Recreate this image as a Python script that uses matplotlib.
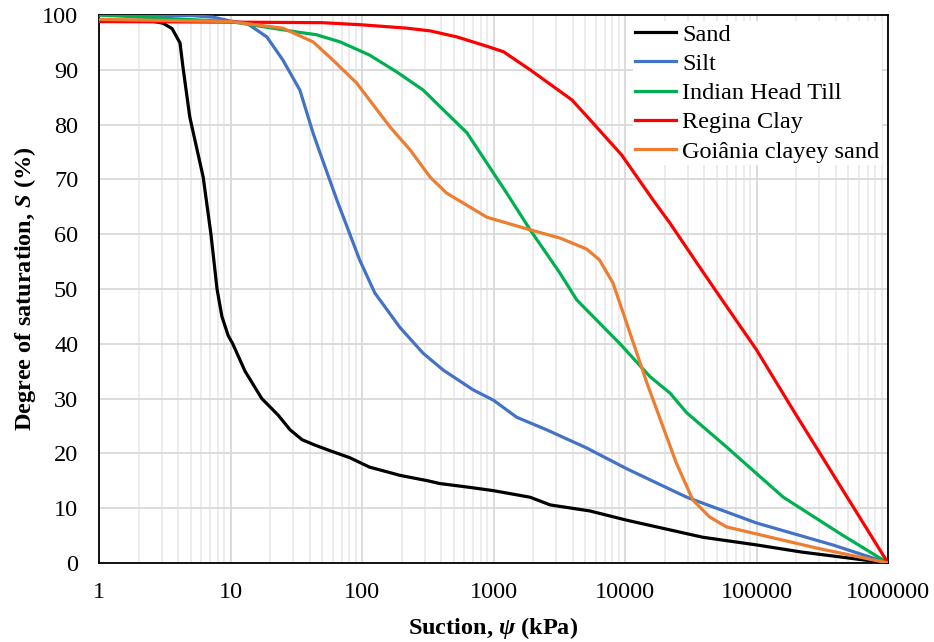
import numpy as np
import matplotlib
matplotlib.use("Agg")
import matplotlib.pyplot as plt
from matplotlib.ticker import FixedLocator, LogLocator, NullFormatter

plt.rcParams['font.family'] = ['Liberation Serif', 'DejaVu Serif']
plt.rcParams['mathtext.fontset'] = 'custom'
plt.rcParams['mathtext.rm'] = 'Liberation Serif:bold'
plt.rcParams['mathtext.it'] = 'Liberation Serif:bold:italic'
plt.rcParams['mathtext.bf'] = 'Liberation Serif:bold'

# suction (kPa) / degree of saturation (%)
sand_x = [1, 2.4, 3.07, 3.6, 4.13, 4.35, 4.9, 6.2, 7.1, 7.9, 8.6, 9.6, 10.4, 12.9, 17.3, 23,
          28.4, 35, 44, 57, 81, 114, 194, 317, 390, 660, 1000, 1900, 2700, 5400, 10350,
          39000, 1e5, 2.2e5, 1e6]
sand_y = [99, 99, 98.5, 97.5, 94.9, 90.5, 81.4, 70.4, 60, 50, 45, 41.5, 40, 35, 30, 27,
          24.3, 22.5, 21.5, 20.5, 19.2, 17.5, 16, 15, 14.5, 13.8, 13.2, 12, 10.6, 9.5, 7.8,
          4.7, 3.3, 2.0, 0]

silt_x = [1, 5, 7.4, 10, 13.3, 18.9, 25, 33.7, 42.4, 48, 64.5, 96, 125, 194, 291, 415, 700,
          1000, 1500, 2540, 5100, 10300, 29500, 1e5, 3.8e5, 1e6]
silt_y = [100, 99.9, 99.6, 98.9, 98.5, 96, 91.8, 86.3, 78.5, 74.8, 66.2, 55.3, 49.3, 43,
          38.3, 35.2, 31.6, 29.7, 26.6, 24.3, 21, 17.2, 12, 7.3, 3.3, 0]

till_x = [1, 10, 32, 45, 68, 114, 184, 292, 415, 628, 830, 1260, 1900, 3200, 4300, 9160,
          15500, 22000, 29500, 59000, 1.07e5, 1.6e5, 4.5e5, 1e6]
till_y = [100, 98.8, 96.9, 96.4, 95.1, 92.7, 89.6, 86.3, 82.7, 78.5, 74.1, 67.5, 60.8, 52.9,
          48, 40, 34, 31, 27.4, 21.2, 15.7, 12, 5.1, 0]

clay_x = [1, 10, 50, 101, 219, 330, 527, 890, 1190, 1900, 3950, 5700, 9400, 16400, 22000,
          35300, 53000, 1e5, 1.9e5, 1e6]
clay_y = [98.8, 98.7, 98.6, 98.2, 97.6, 97.1, 96, 94.3, 93.3, 90, 84.5, 80.3, 74.5, 66.2,
          62, 54.7, 48.5, 38.9, 27.9, 0]

goiania_x = [1, 10, 25, 42.4, 57, 91, 114, 163, 232, 330, 440, 890, 1900, 3200, 5100, 6400,
             8100, 10900, 14700, 18300, 24600, 32800, 44000, 59000, 92000, 2.9e5, 1e6]
goiania_y = [99.2, 98.8, 97.6, 95.1, 92.3, 87.6, 84.5, 79.6, 75.4, 70.4, 67.5, 63.1, 60.8,
             59.3, 57.3, 55.3, 51.1, 42, 32.8, 26.6, 18.2, 11.5, 8.4, 6.6, 5.5, 2.7, 0]

labels = ['Sand', 'Silt', 'Indian Head Till', 'Regina Clay', 'Goiânia clayey sand']
colors = ['#000000', '#4472C4', '#00B050', '#FF0000', '#ED7D31']
x_ticks = [1, 10, 100, 1000, 10000, 100000, 1000000]
y_ticks = list(range(0, 101, 10))

FS = 17.5

fig = plt.figure(figsize=(9.34, 6.42), dpi=100)
ax = fig.add_axes([99 / 934, 79 / 642, 789 / 934, 548 / 642])

series = [(sand_x, sand_y), (silt_x, silt_y), (till_x, till_y),
          (clay_x, clay_y), (goiania_x, goiania_y)]
for (xs, ys), lab, c in zip(series, labels, colors):
    ax.plot(xs, ys, color=c, lw=2.3, label=lab, solid_joinstyle='round', zorder=3)

ax.set_xscale('log')
ax.set_xlim(1, 1e6)
ax.set_ylim(0, 100)
ax.xaxis.set_major_locator(FixedLocator(x_ticks))
ax.set_xticklabels([str(t) for t in x_ticks])
ax.xaxis.set_minor_locator(LogLocator(base=10, subs=np.arange(2, 10)))
ax.xaxis.set_minor_formatter(NullFormatter())
ax.set_yticks(y_ticks)

ax.grid(True, which='major', color='#d9d9d9', lw=1.3, zorder=0)
ax.grid(True, which='minor', axis='x', color='#ebebeb', lw=1.3, zorder=0)
ax.set_axisbelow(True)

ax.tick_params(which='both', length=0, labelsize=FS)
ax.tick_params(axis='x', pad=14)
ax.tick_params(axis='y', pad=15)
for s in ax.spines.values():
    s.set_color('black')
    s.set_linewidth(1.3)

ax.set_xlabel(r'Suction, $\psi$ (kPa)', fontsize=FS, fontweight='bold', labelpad=8)
ax.set_ylabel(r'Degree of saturation, $S$ (%)', fontsize=FS, fontweight='bold', labelpad=3)

leg = ax.legend(loc='upper right', fontsize=FS, frameon=True, fancybox=False,
                borderaxespad=0.25, handlelength=1.7, handletextpad=0.25,
                labelspacing=0.3, borderpad=0.1)
leg.get_frame().set_facecolor('white')
leg.get_frame().set_edgecolor('none')
leg.get_frame().set_alpha(1)

fig.savefig('out.png', dpi=100)
